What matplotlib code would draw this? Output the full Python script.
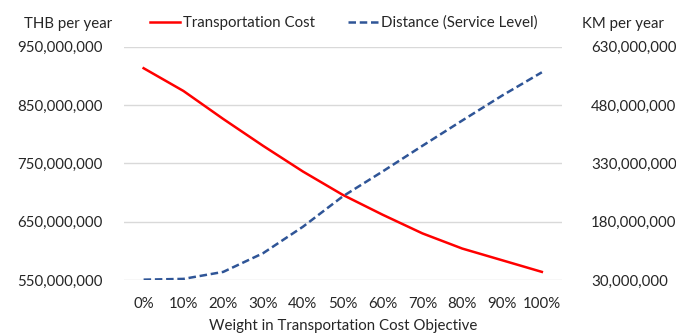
import matplotlib.pyplot as plt
from matplotlib.ticker import FuncFormatter

plt.rcParams['font.family'] = ['Lato', 'DejaVu Sans']

weights = ["0%", "10%", "20%", "30%", "40%", "50%", "60%", "70%", "80%", "90%", "100%"]
transport_cost = [913e6, 874e6, 826e6, 780e6, 736e6, 696e6, 662e6, 630e6, 604e6, 584e6, 564e6]
distance = [31e6, 33e6, 51e6, 99e6, 167e6, 245e6, 309e6, 375e6, 440e6, 504e6, 564e6]

left_ticks = [550e6, 650e6, 750e6, 850e6, 950e6]
right_ticks = [30e6, 180e6, 330e6, 480e6, 630e6]

fmt = FuncFormatter(lambda v, p: f"{v:,.0f}")
fs = 10.8
txt = "#262626"

fig = plt.figure(figsize=(6.76, 3.33), dpi=100)
ax = fig.add_axes([0.183, 0.159, 0.648, 0.701])
ax2 = ax.twinx()

x = range(len(weights))
l1, = ax.plot(x, transport_cost, color="#FF0000", lw=1.8, label="Transportation Cost")
l2, = ax2.plot(x, distance, color="#2F5597", lw=1.8, ls=(0, (3, 1.5)), label="Distance (Service Level)")

ax.set_xlim(-0.5, len(weights) - 0.5)
ax.set_ylim(left_ticks[0], left_ticks[-1])
ax2.set_ylim(right_ticks[0], right_ticks[-1])
ax.set_yticks(left_ticks)
ax2.set_yticks(right_ticks)
ax.yaxis.set_major_formatter(fmt)
ax2.yaxis.set_major_formatter(fmt)
ax.set_xticks(list(x))
ax.set_xticklabels(weights)

ax.grid(axis="y", color="#d9d9d9", lw=1)
ax.set_axisbelow(True)
for a in (ax, ax2):
    for s in a.spines.values():
        s.set_visible(False)
    a.tick_params(length=0, labelsize=fs, colors=txt)
ax.tick_params(axis="y", pad=15)
ax2.tick_params(axis="y", pad=21)
ax.tick_params(axis="x", pad=12)

ax.set_xlabel("Weight in Transportation Cost Objective", fontsize=fs, color=txt, labelpad=6)

fig.text(0.035, 0.928, "THB per year", fontsize=fs, color=txt, va="center")
fig.text(0.982, 0.928, "KM per year", fontsize=fs, color=txt, va="center", ha="right")
fig.legend(handles=[l1, l2], loc="center", bbox_to_anchor=(0.508, 0.932), ncol=2, frameon=False,
           fontsize=fs, handlelength=2.0, handletextpad=0.2, columnspacing=2.2,
           labelcolor=txt)

fig.savefig("out.png", dpi=100)
